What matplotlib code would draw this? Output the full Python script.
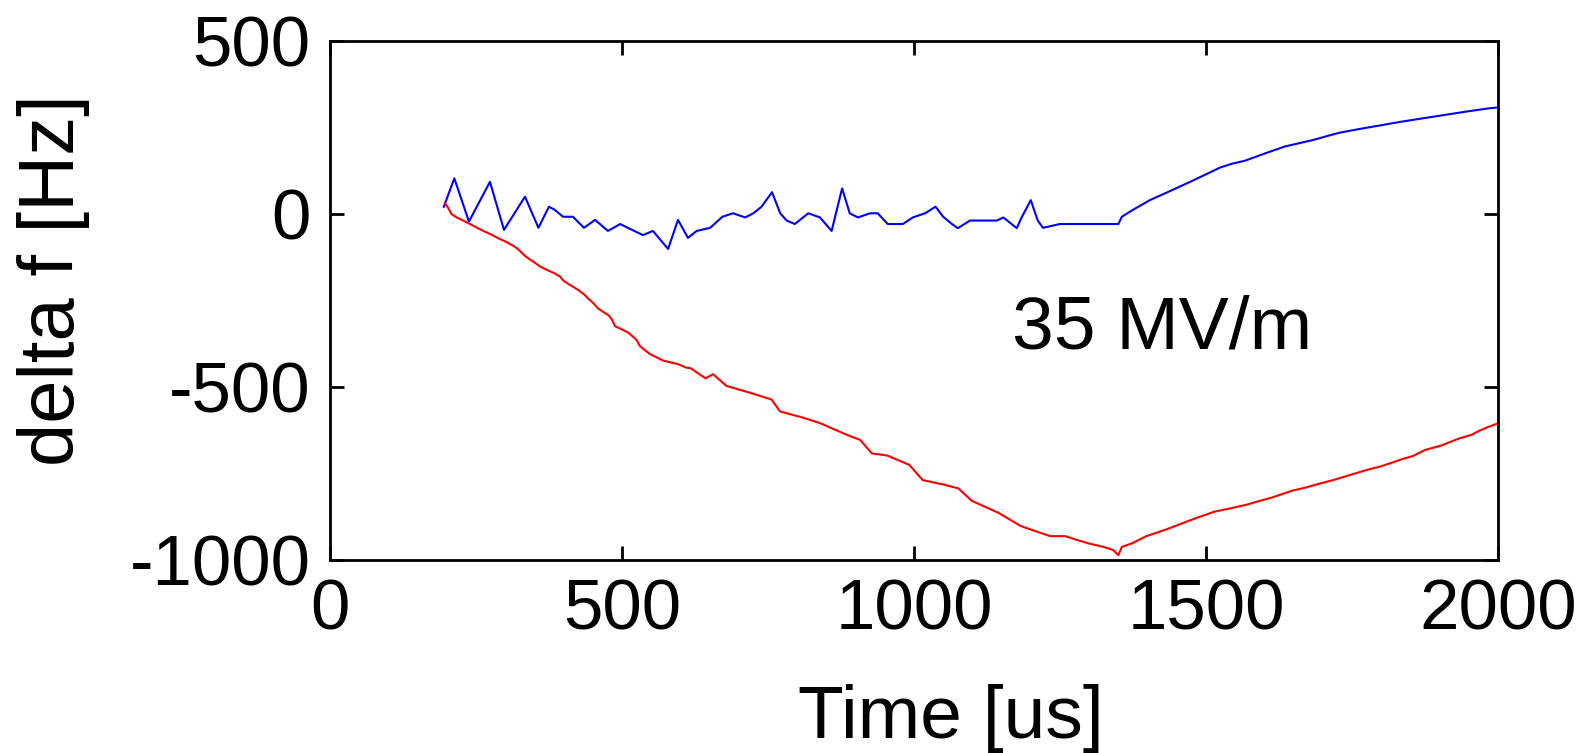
import matplotlib
matplotlib.use("Agg")
import matplotlib.pyplot as plt

plt.rcParams['font.family'] = ['Liberation Sans', 'DejaVu Sans']
plt.rcParams['axes.unicode_minus'] = False

blue_t = [195, 213, 238, 274, 298, 334, 357, 375, 385, 399, 416, 435, 454, 476, 497, 510,
          536, 553, 579, 596, 613, 628, 651, 672, 690, 711, 725, 739, 757, 771, 782, 796,
          819, 839, 859, 877, 890, 904, 925, 938, 955, 981, 998, 1019, 1037, 1050, 1065,
          1075, 1096, 1142, 1153, 1176, 1185, 1200, 1212, 1221, 1250, 1350, 1356, 1375,
          1404, 1433, 1473, 1498, 1524, 1544, 1567, 1601, 1635, 1658, 1684, 1707, 1729,
          1764, 1795, 1832, 1866, 1904, 1946, 1983, 2000]
blue_df = [21, 103, -22, 93, -46, 50, -40, 21, 12, -8, -8, -40, -17, -49, -29, -40,
           -61, -49, -101, -17, -69, -49, -40, -8, 2, -10, 2, 21, 63, 2, -19, -29,
           2, -10, -49, 74, 2, -10, 2, 2, -29, -29, -10, 2, 21, -8, -29,
           -41, -19, -19, -10, -41, -8, 40, -19, -40, -29, -29, -8, 12,
           40, 62, 93, 113, 134, 145, 154, 175, 195, 204, 214, 225, 235,
           246, 255, 266, 275, 285, 296, 305, 308]

red_t = [197, 203, 208, 217, 228, 240, 252, 264, 277, 288, 301, 313, 321, 334, 342, 351,
         360, 372, 384, 394, 400, 408, 418, 427, 435, 442, 448, 454, 459, 468, 478, 484,
         488, 499, 511, 525, 531, 539, 548, 571, 596, 610, 618, 643, 656, 679, 718, 756,
         771, 809, 840, 886, 908, 928, 954, 992, 1015, 1053, 1076, 1099, 1145, 1183, 1233,
         1259, 1279, 1299, 1324, 1341, 1350, 1356, 1373, 1398, 1433, 1464, 1481, 1515,
         1541, 1570, 1590, 1612, 1647, 1672, 1695, 1718, 1755, 1777, 1798, 1818, 1835,
         1855, 1875, 1903, 1918, 1935, 1955, 1966, 1981, 2000]
red_df = [31, 16, 0, -10, -19, -29, -40, -50, -60, -70, -80, -91, -100, -121, -131, -141,
          -152, -162, -171, -181, -193, -202, -212, -222, -232, -244, -253, -263, -273, -283, -294, -308,
          -324, -333, -343, -364, -382, -393, -405, -424, -434, -444, -446, -475, -463, -497, -516, -536,
          -571, -588, -605, -639, -653, -692, -698, -725, -769, -783, -793, -829, -864, -902, -931,
          -931, -942, -952, -962, -971, -986, -962, -952, -931, -911, -891, -880, -860,
          -851, -840, -830, -820, -800, -790, -779, -769, -750, -739, -730, -719, -709,
          -699, -682, -669, -659, -648, -638, -628, -617, -605]

xticks = [0, 500, 1000, 1500, 2000]
yticks = [-1000, -500, 0, 500]
annotation = "35 MV/m"

fig = plt.figure(figsize=(15.87, 7.53), dpi=100)
ax = fig.add_axes([0.2079, 0.2563, 0.9439 - 0.2079, 0.9456 - 0.2563])

ax.plot(blue_t, blue_df, color=(0, 0, 1), lw=1.5)
ax.plot(red_t, red_df, color=(1, 0, 0), lw=1.5)

ax.set_xlim(0, 2000)
ax.set_ylim(-1000, 500)
ax.set_xticks(xticks)
ax.set_yticks(yticks)
ax.set_xticklabels([str(v) for v in xticks])
ax.set_yticklabels([str(v) for v in yticks])

ax.tick_params(direction='in', length=10, width=2, labelsize=51, top=True, right=True,
               pad=13, colors='black')
ax.tick_params(axis='y', pad=14)
for s in ax.spines.values():
    s.set_linewidth(2)

ax.set_xlabel("Time [us]", fontsize=54)
ax.set_ylabel("delta f [Hz]", fontsize=56)
ax.xaxis.set_label_coords(0.532, -0.238)
ax.yaxis.set_label_coords(-0.205, 0.54)

ax.text(1168, -390, annotation, fontsize=54, ha='left', va='baseline')

fig.savefig("out.png", dpi=100, facecolor='white')
